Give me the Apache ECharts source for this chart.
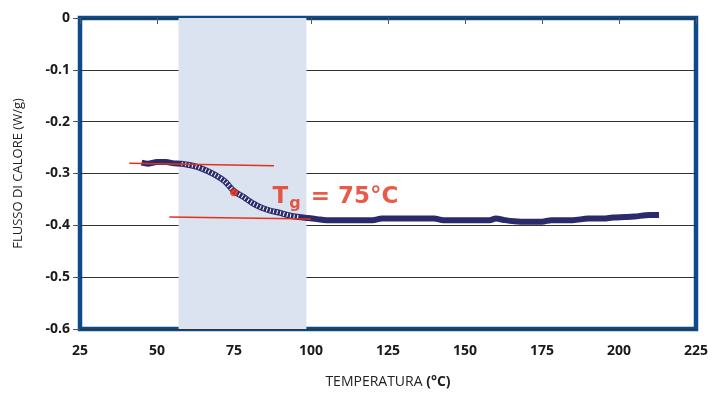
<!DOCTYPE html>
<html><head><meta charset="utf-8">
<script src="https://cdn.jsdelivr.net/npm/echarts@6/dist/echarts.min.js"></script>
<style>html,body{margin:0;padding:0;background:#fff}#c{width:715px;height:394px}</style>
</head><body><div id="c"></div>
<script>
const temps = [45,47,50,53,55,58,60,63,66,69,72,75,78,81,84,87,90,93,96,99,102,105,110,115,120,123,130,135,140,143,150,155,158,160,163,166,170,175,178,182,185,190,195,198,202,205,210,213];
const flux  = [-0.279,-0.281,-0.278,-0.278,-0.28,-0.281,-0.283,-0.287,-0.294,-0.303,-0.315,-0.334,-0.345,-0.357,-0.366,-0.372,-0.376,-0.381,-0.384,-0.386,-0.388,-0.39,-0.39,-0.39,-0.39,-0.387,-0.387,-0.387,-0.387,-0.39,-0.39,-0.39,-0.39,-0.387,-0.39,-0.392,-0.393,-0.393,-0.39,-0.39,-0.39,-0.387,-0.387,-0.385,-0.384,-0.383,-0.38,-0.38];
const transStart = 58, transEnd = 98;
const bandRange = [57, 98.5];
const upperTangent = [[41, -0.28], [88, -0.285]];
const lowerTangent = [[54, -0.384], [100, -0.388]];
const tgPoint = [75, -0.336];
const tgLabelPos = [87.5, -0.345];
const xTicks = {min: 25, max: 225, interval: 25};
const yTicks = {min: -0.6, max: 0, interval: 0.1};

const mainData = temps.map((t, i) => [t, flux[i]]);
const transData = mainData.filter(d => d[0] >= transStart && d[0] <= transEnd);

const chart = echarts.init(document.getElementById('c'), null, {renderer: 'canvas'});
const font = '"Open Sans", sans-serif';
const red = '#e3321b';
chart.setOption({
  animation: false,
  grid: {left: 80, right: 19, top: 18, bottom: 62, show: true, borderColor: '#0c4b8b', borderWidth: 4.5, backgroundColor: 'transparent'},
  xAxis: {
    type: 'value', min: xTicks.min, max: xTicks.max, interval: xTicks.interval,
    name: '{n|TEMPERATURA }{b|(°C)}', nameLocation: 'middle', nameGap: 46,
    nameTextStyle: {rich: {n: {fontFamily: '"Liberation Sans Narrow", "Open Sans", sans-serif', fontSize: 14, color: '#222'}, b: {fontFamily: font, fontSize: 14, fontWeight: 'bold', color: '#222'}}},
    axisLine: {show: false},
    axisTick: {show: true, length: 6, inside: false, lineStyle: {color: '#555'}},
    axisLabel: {fontFamily: font, fontSize: 14, fontWeight: 'bold', color: '#1a1a1a', margin: 15},
    splitLine: {show: false}
  },
  yAxis: {
    type: 'value', min: yTicks.min, max: yTicks.max, interval: yTicks.interval,
    name: 'FLUSSO DI CALORE (W/g)', nameLocation: 'middle', nameGap: 55,
    nameTextStyle: {fontFamily: font, fontSize: 13, color: '#222'},
    axisLine: {show: false},
    axisTick: {show: true, length: 7, lineStyle: {color: '#555'}},
    axisLabel: {fontFamily: font, fontSize: 14, fontWeight: 'bold', color: '#1a1a1a', margin: 10},
    splitLine: {show: true, lineStyle: {color: '#333', width: 1}}
  },
  series: [
    {
      type: 'line', data: mainData, showSymbol: false, smooth: 0.3,
      lineStyle: {color: '#2a2a6c', width: 6}, z: 3,
      markArea: {silent: true, itemStyle: {color: '#dce3f0'}, data: [[{xAxis: bandRange[0]}, {xAxis: bandRange[1]}]]}
    },
    {
      type: 'line', data: transData, showSymbol: false, smooth: 0.3,
      lineStyle: {color: '#ffffff', width: 4, type: [1, 2.5]}, z: 4
    },
    {type: 'line', data: upperTangent, showSymbol: false, lineStyle: {color: red, width: 1.5}, z: 5},
    {type: 'line', data: lowerTangent, showSymbol: false, lineStyle: {color: red, width: 1.5}, z: 5},
    {type: 'scatter', data: [tgPoint], symbolSize: 8, itemStyle: {color: red}, z: 6},
    {
      type: 'scatter', data: [tgLabelPos], symbolSize: 0, z: 6,
      label: {
        show: true, position: 'right', distance: 0,
        formatter: '{a|T}{b|g}{a| = 75°C}',
        rich: {
          a: {fontFamily: '"DejaVu Sans", sans-serif', fontSize: 23, fontWeight: 'bold', color: red, lineHeight: 28},
          b: {fontFamily: '"DejaVu Sans", sans-serif', fontSize: 16, fontWeight: 'bold', color: red, padding: [15, 2, 0, 1]}
        }
      }
    }
  ]
});
</script></body></html>
